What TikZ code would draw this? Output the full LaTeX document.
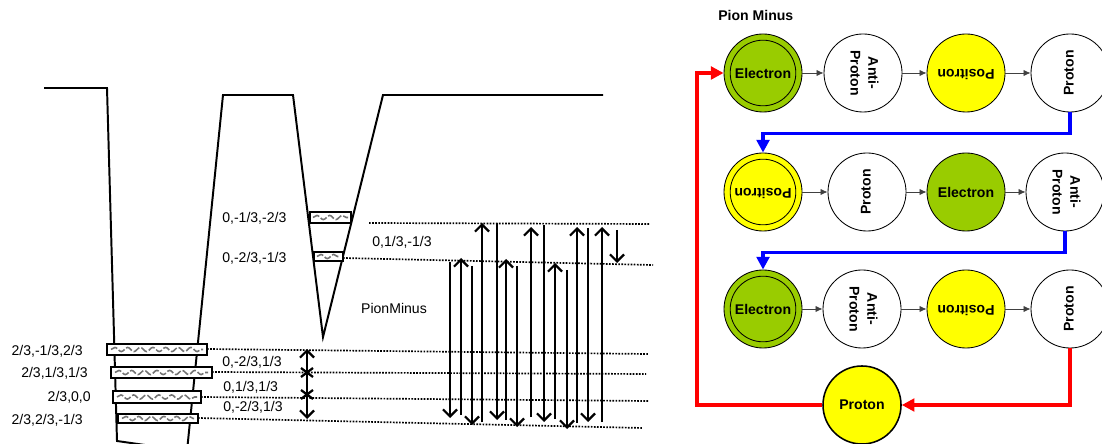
\documentclass[tikz,border=0pt]{standalone}
\usepackage{fontspec}
\setmainfont{Liberation Sans}
\usepackage{graphicx}
\usepackage{xcolor}
\usepackage{tikz}
\usetikzlibrary{arrows.meta,decorations.pathmorphing}
\definecolor{electrongreen}{RGB}{153,204,0}
\definecolor{positronyellow}{RGB}{255,255,0}
\newcommand{\turned}[2]{\rotatebox{#1}{\begin{tabular}{@{}c@{}}#2\end{tabular}}}

\begin{document}
\begin{tikzpicture}[x=0.025cm,y=-0.025cm,
    wall/.style={line width=1.4pt},
    bar/.style={line width=1.4pt,fill=white},
    wave/.style={black!55,line width=1.1pt,dash pattern=on 5pt off 1.5pt,decorate,decoration={snake,amplitude=1.5pt,segment length=9pt}},
    level/.style={densely dotted,line width=1.2pt},
    jump/.style={line width=1.3pt,-{Straight Barb[length=5pt,width=10pt,line width=1.6pt]}},
    tag/.style={font=\fontsize{10}{12}\selectfont,inner sep=0pt},
    atom/.style={circle,draw,line width=0.6pt,minimum size=1.95cm,inner sep=0pt,font=\fontsize{10}{12.5}\selectfont\bfseries},
    ring/.style={path picture={\draw[line width=0.6pt] (path picture bounding box.center) circle[radius=0.82cm];}},
    link/.style={draw=black!75,line width=0.6pt,-{Latex[length=5pt,width=4.5pt]}},
    bluelink/.style={draw=blue,line width=2.2pt,-{Triangle[length=9pt,width=9pt]}},
    redlink/.style={draw=red,line width=2.2pt,-{Triangle[length=9pt,width=9pt]}}]
    \useasboundingbox (0,0) rectangle (1102,444);

    % Wells
    \draw[wall] (44,88) -- (107,88) -- (117,441) -- (187,451) -- (223,95) -- (293,95) -- (323,337) -- (383,95) -- (603,95);

    % Levels
    \draw[level] (207,349) -- (648,354);
    \draw[level] (212,372) -- (646,374);
    \draw[level] (201,397) -- (648,401);
    \draw[level] (198,418) -- (643,428);
    \draw[level] (369,223) -- (650,224);
    \draw[level] (343,258) -- (653,265);

    % Bars
    \draw[bar] (107,344) rectangle (207,355);
    \draw[wave] (111,349.5) -- (203,349.5);
    \draw[bar] (111,367) rectangle (212,378);
    \draw[wave] (115,372.5) -- (208,372.5);
    \draw[bar] (113,391) rectangle (201,403);
    \draw[wave] (117,397) -- (197,397);
    \draw[bar] (118,414) rectangle (198,423);
    \draw[wave] (122,418.5) -- (194,418.5);
    \draw[bar] (310,212) rectangle (351,223);
    \draw[wave] (313,217.5) -- (348,217.5);
    \draw[bar] (314,252) rectangle (343,261);
    \draw[wave] (317,256.5) -- (340,256.5);

    % Quark labels
    \node[tag,anchor=east] (qa) at (83,351) {2/3,-1/3,2/3};
    \node[tag,anchor=east] (qb) at (88,373) {2/3,1/3,1/3};
    \node[tag,anchor=east] (qc) at (91,397) {2/3,0,0};
    \node[tag,anchor=east] (qd) at (83,420) {2/3,2/3,-1/3};
    \node[tag,anchor=west] (qe) at (222,362) {0,-2/3,1/3};
    \node[tag,anchor=west] (qf) at (223,387) {0,1/3,1/3};
    \node[tag,anchor=west] (qg) at (223,407) {0,-2/3,1/3};
    \node[tag,anchor=west] (qh) at (222,218) {0,-1/3,-2/3};
    \node[tag,anchor=west] (qi) at (222,258) {0,-2/3,-1/3};
    \node[tag] (qj) at (402,242) {0,1/3,-1/3};
    \node[tag] (pion) at (394,308) {PionMinus};

    % Small ladder
    \draw[line width=1.3pt,{Straight Barb[length=5pt,width=10pt,line width=1.6pt]}-{Straight Barb[length=5pt,width=10pt,line width=1.6pt]}] (307,349) -- (307,419);
    \draw[line width=1.6pt] (301,368) -- (313,377) (301,377) -- (313,368);
    \draw[line width=1.6pt] (301,390) -- (313,399) (301,399) -- (313,390);

    % Transitions
    \draw[jump] (450,262) -- (450,418);
    \draw[jump] (461,415) -- (461,258);
    \draw[jump] (472,266) -- (472,425);
    \draw[jump] (482,422) -- (482,223);
    \draw[jump] (497,223) -- (497,420);
    \draw[jump] (506,420) -- (506,259);
    \draw[jump] (517,266) -- (517,427);
    \draw[jump] (531,417) -- (531,227);
    \draw[jump] (544,225) -- (544,422);
    \draw[jump] (555,419) -- (555,263);
    \draw[jump] (567,270) -- (567,429);
    \draw[jump] (577,423) -- (577,227);
    \draw[jump] (588,228) -- (588,422);
    \draw[jump] (602,422) -- (602,227);
    \draw[jump] (617,230) -- (617,263);

    % Cycle
    \node[font=\fontsize{10}{12}\selectfont\bfseries,anchor=west,inner sep=0pt] (title) at (718,15) {Pion Minus};

    \node[atom,ring,fill=electrongreen] (e1) at (763,73) {Electron};
    \node[atom] (a1) at (863,73) {\turned{-90}{Anti-\\Proton}};
    \node[atom,fill=positronyellow] (ps1) at (966,73) {\turned{180}{Positron}};
    \node[atom] (p1) at (1070,73) {\turned{90}{Proton}};

    \node[atom,ring,fill=positronyellow] (ps2) at (763,192) {\turned{180}{Positron}};
    \node[atom] (p2) at (867,192) {\turned{90}{Proton}};
    \node[atom,fill=electrongreen] (e2) at (966,192) {Electron};
    \node[atom] (a2) at (1065,192) {\turned{-90}{Anti-\\Proton}};

    \node[atom,ring,fill=electrongreen] (e3) at (763,309) {Electron};
    \node[atom] (a3) at (862,309) {\turned{-90}{Anti-\\Proton}};
    \node[atom,fill=positronyellow] (ps3) at (966,309) {\turned{180}{Positron}};
    \node[atom] (p3) at (1070,309) {\turned{90}{Proton}};

    \node[atom,line width=1.1pt,fill=positronyellow] (pb) at (862,405) {Proton};

    \draw[link] (e1) -- (a1);
    \draw[link] (a1) -- (ps1);
    \draw[link] (ps1) -- (p1);
    \draw[link] (ps2) -- (p2);
    \draw[link] (p2) -- (e2);
    \draw[link] (e2) -- (a2);
    \draw[link] (e3) -- (a3);
    \draw[link] (a3) -- (ps3);
    \draw[link] (ps3) -- (p3);

    \draw[bluelink] (p1.south) -- ++(0,21) -| (ps2.north);
    \draw[bluelink] (a2.south) -- ++(0,21) -| (e3.north);

    \coordinate (bend) at (697,73);
    \draw[redlink] (p3.south) |- (pb.east);
    \draw[redlink] (pb.west) -| (bend) -- (e1.west);
\end{tikzpicture}
\end{document}
